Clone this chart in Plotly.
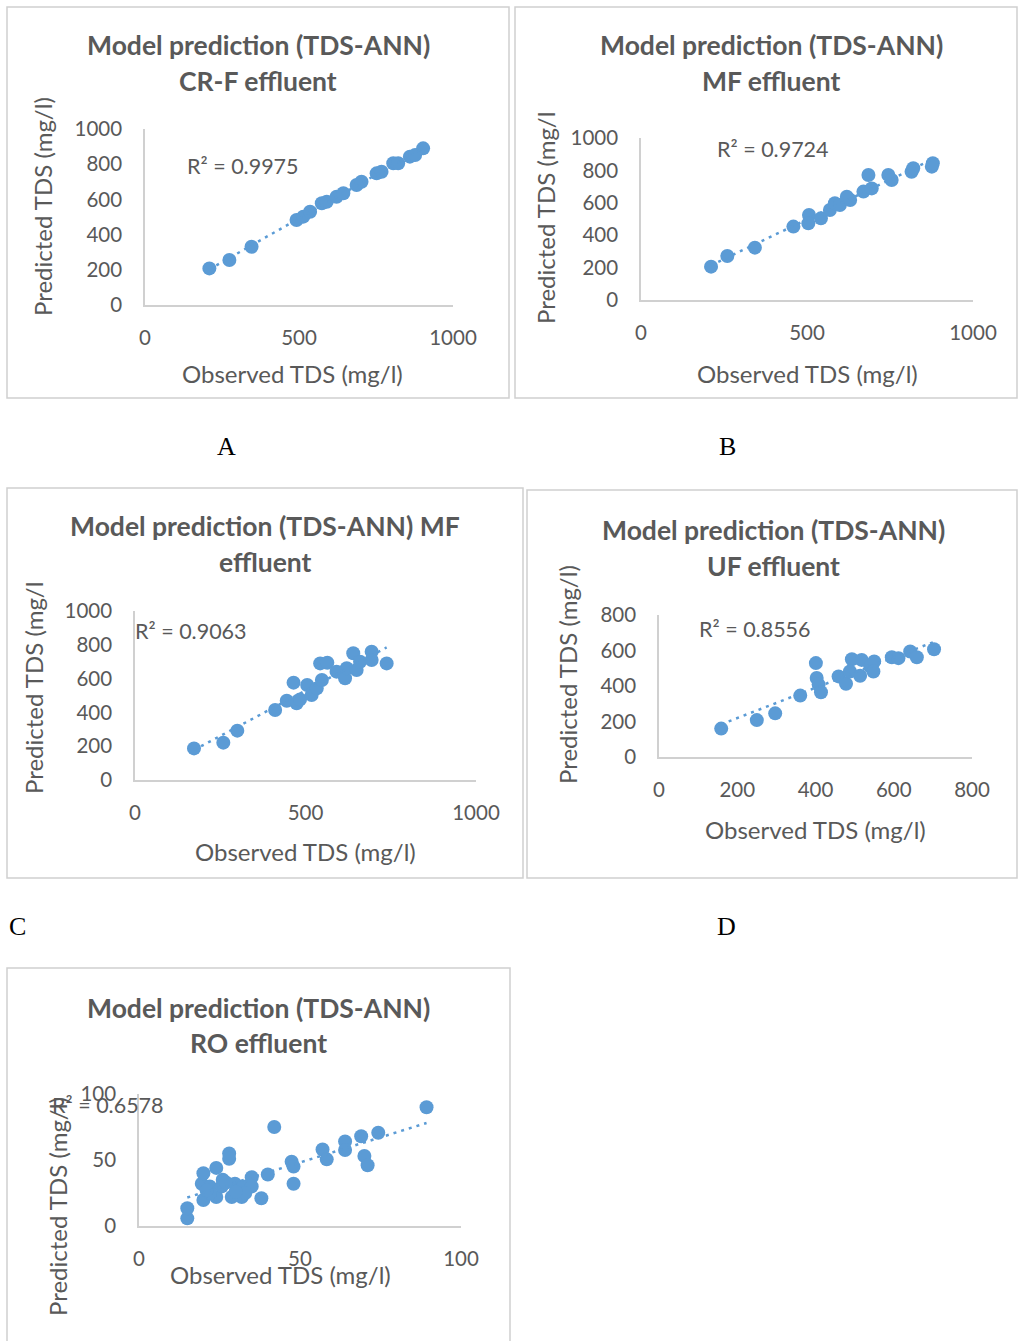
import numpy as np
import plotly.graph_objects as go

W, H = 1018, 1341

# ---------------- data ----------------
obs_a = [209, 274, 346, 492, 514, 536, 574, 590, 622, 644, 687, 703, 752, 768, 806, 822, 860, 877, 903]
pred_a = [208, 256, 331, 483, 502, 530, 578, 587, 615, 635, 682, 700, 748, 757, 805, 805, 843, 852, 890]

obs_b = [211, 260, 343, 459, 506, 504, 542, 569, 584, 599, 630, 620, 670, 695, 685, 745, 755, 815, 820, 876, 879]
pred_b = [206, 272, 323, 453, 525, 473, 504, 556, 597, 586, 617, 638, 669, 689, 772, 772, 741, 792, 813, 823, 844]

obs_c = [173, 259, 300, 411, 445, 474, 484, 465, 505, 518, 533, 548, 543, 564, 591, 616, 621, 640, 650, 660, 694, 694, 738]
pred_c = [187, 221, 292, 414, 469, 454, 477, 576, 562, 503, 542, 592, 690, 694, 641, 602, 661, 750, 651, 700, 759, 710, 690]

obs_d = [159, 250, 297, 361, 401, 403, 408, 414, 459, 478, 493, 488, 514, 518, 540, 550, 548, 595, 612, 642, 659, 703]
pred_d = [160, 208, 246, 346, 529, 445, 408, 365, 454, 413, 551, 482, 458, 547, 510, 538, 482, 562, 557, 594, 562, 607]

obs_e = [15, 15, 20, 19.5, 20, 22, 24, 24, 25.7, 28, 28, 28.8, 29.8, 31.9, 32.4, 35, 35, 38, 40, 42,
         47.4, 48, 48, 57, 58.3, 64, 64, 69, 70, 71, 74.3, 89.3, 22, 26, 33, 30, 27, 21]
pred_e = [5.8, 13.4, 19.7, 32, 40, 30, 44, 22, 30, 55, 51, 22, 32, 22, 30, 37, 30, 21, 39, 75,
          48.7, 45, 32, 58, 50.5, 64, 57.6, 68, 53, 46, 70.7, 90, 25, 35, 25, 26, 33, 27]

r2_labels = ["R² = 0.9975", "R² = 0.9724", "R² = 0.9063", "R² = 0.8556", "R² = 0.6578"]
title_lines = [
    ["Model prediction (TDS-ANN)", "CR-F effluent"],
    ["Model prediction (TDS-ANN)", "MF effluent"],
    ["Model prediction (TDS-ANN) MF", "effluent"],
    ["Model prediction (TDS-ANN)", "UF effluent"],
    ["Model prediction (TDS-ANN)", "RO effluent"],
]
x_ticks = [[0, 500, 1000], [0, 500, 1000], [0, 500, 1000], [0, 200, 400, 600, 800], [0, 50, 100]]
y_ticks = [[0, 200, 400, 600, 800, 1000], [0, 200, 400, 600, 800, 1000], [0, 200, 400, 600, 800, 1000],
           [0, 200, 400, 600, 800], [0, 50, 100]]
x_title = "Observed TDS (mg/l)"
y_titles = ["Predicted TDS (mg/l)", "Predicted TDS (mg/l", "Predicted TDS (mg/l", "Predicted TDS (mg/l)", "Predicted TDS (mg/l)"]
panel_letters = ["A", "B", "C", "D"]

# ---------------- layout geometry (pixels) ----------------
panels = [
    dict(obs=obs_a, pred=pred_a, xr=[0, 1000], yr=[0, 1000], xpx=(145, 453), ypx=(305, 129),
         box=(7, 7, 509, 398), title=(258, 45, 81), xt=(292, 373), yt=(42, 207), r2=(185, 166)),
    dict(obs=obs_b, pred=pred_b, xr=[0, 1000], yr=[0, 1000], xpx=(641, 973), ypx=(300, 138),
         box=(515, 7, 1017, 398), title=(771, 45, 81), xt=(807, 373), yt=(546, 218), r2=(715, 149)),
    dict(obs=obs_c, pred=pred_c, xr=[0, 1000], yr=[0, 1000], xpx=(135, 476), ypx=(780, 611),
         box=(7, 488, 523, 878), title=(265, 526, 562), xt=(305, 851), yt=(33, 688), r2=(133, 631)),
    dict(obs=obs_d, pred=pred_d, xr=[0, 800], yr=[0, 800], xpx=(659, 972), ypx=(757, 615),
         box=(527, 490, 1017, 878), title=(773, 530, 566), xt=(815, 829), yt=(567, 675), r2=(697, 629)),
    dict(obs=obs_e, pred=pred_e, xr=[0, 100], yr=[0, 100], xpx=(139, 461), ypx=(1226, 1094),
         box=(7, 968, 510, 1345), title=(258, 1008, 1043), xt=(280, 1274), yt=(57, 1207), r2=(50, 1105)),
]
letter_pos = [(226, 446), (727, 446), (17, 926), (726, 926)]

def px(x):
    return x / W

def py(y):
    return 1 - y / H

BLUE = "#5b9bd5"
GRAY = "#595959"
LINE = "#d0d0d0"
FONT = "Lato"

fig = go.Figure()
layout = dict(template="none", width=W, height=H, autosize=False,
              margin=dict(l=0, r=0, t=0, b=0, pad=0, autoexpand=False),
              paper_bgcolor="white", plot_bgcolor="white", showlegend=False, annotations=[], shapes=[])

for i, p in enumerate(panels):
    n = i + 1
    xa = "x" if n == 1 else f"x{n}"
    ya = "y" if n == 1 else f"y{n}"
    fig.add_trace(go.Scatter(x=p["obs"], y=p["pred"], mode="markers", xaxis=xa, yaxis=ya,
                             marker=dict(size=14, color=BLUE, line=dict(width=0)), hoverinfo="skip"))
    # linear trendline fitted to the data
    xs = np.array(p["obs"], dtype=float)
    ys = np.array(p["pred"], dtype=float)
    m, b = np.polyfit(xs, ys, 1)
    tx = np.array([xs.min(), xs.max()])
    fig.add_trace(go.Scatter(x=tx, y=m * tx + b, mode="lines", xaxis=xa, yaxis=ya,
                             line=dict(color=BLUE, width=2.5, dash="3px,5px"), hoverinfo="skip"))
    common = dict(showgrid=False, zeroline=False, showline=True, linecolor=LINE, linewidth=1.5,
                  ticks="outside", tickcolor="rgba(0,0,0,0)", automargin=False,
                  tickfont=dict(family=FONT, size=20.5, color=GRAY), fixedrange=True)
    layout["xaxis" if n == 1 else f"xaxis{n}"] = dict(
        common, domain=[px(p["xpx"][0]), px(p["xpx"][1])], range=p["xr"], anchor=ya,
        tickvals=x_ticks[i], ticktext=[str(v) for v in x_ticks[i]], ticklen=14)
    layout["yaxis" if n == 1 else f"yaxis{n}"] = dict(
        common, domain=[py(p["ypx"][0]), py(p["ypx"][1])], range=p["yr"], anchor=xa,
        tickvals=y_ticks[i], ticktext=[str(v) for v in y_ticks[i]], ticklen=17)
    # box
    x0, y0, x1, y1 = p["box"]
    layout["shapes"].append(dict(type="rect", xref="paper", yref="paper", x0=px(x0), x1=px(x1),
                                 y0=py(y1), y1=py(y0), line=dict(color=LINE, width=1.5), layer="below"))
    # titles
    tx_, t1, t2 = p["title"]
    for line_txt, yy in zip(title_lines[i], (t1, t2)):
        layout["annotations"].append(dict(text=f"<b>{line_txt}</b>", x=px(tx_), y=py(yy), xref="paper",
                                          yref="paper", showarrow=False, xanchor="center", yanchor="middle",
                                          font=dict(family=FONT, size=26.5, color=GRAY)))
    # axis titles
    layout["annotations"].append(dict(text=x_title, x=px(p["xt"][0]), y=py(p["xt"][1]), xref="paper",
                                      yref="paper", showarrow=False, xanchor="center", yanchor="middle",
                                      font=dict(family=FONT, size=24, color=GRAY)))
    layout["annotations"].append(dict(text=y_titles[i], x=px(p["yt"][0]), y=py(p["yt"][1]), xref="paper",
                                      yref="paper", showarrow=False, xanchor="center", yanchor="middle",
                                      textangle=-90, font=dict(family=FONT, size=24, color=GRAY)))
    # R2
    layout["annotations"].append(dict(text=r2_labels[i], x=px(p["r2"][0]), y=py(p["r2"][1]), xref="paper",
                                      yref="paper", showarrow=False, xanchor="left", yanchor="middle",
                                      font=dict(family=FONT, size=21.5, color=GRAY)))

for letter, (lx, ly) in zip(panel_letters, letter_pos):
    layout["annotations"].append(dict(text=letter, x=px(lx), y=py(ly), xref="paper", yref="paper",
                                      showarrow=False, xanchor="center", yanchor="middle",
                                      font=dict(family="Liberation Serif", size=26, color="black")))

fig.update_layout(**layout)
fig.write_html("out.html", config={"displayModeBar": False, "responsive": False},
               post_script="document.body.style.margin='0';document.body.style.padding='0';"
                           "document.documentElement.style.overflow='hidden';")
